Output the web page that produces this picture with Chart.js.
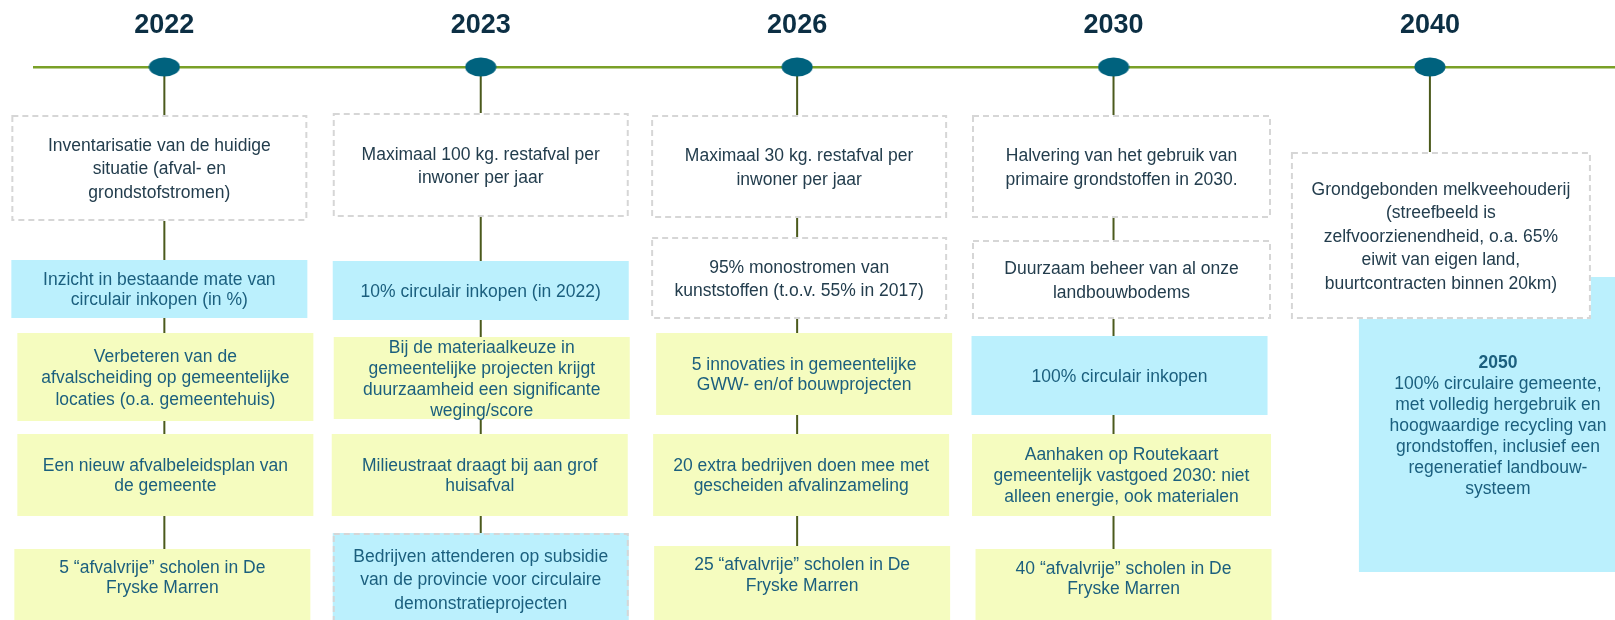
<!DOCTYPE html>
<html>
<head>
<meta charset="utf-8">
<style>
  html, body { margin: 0; padding: 0; background: #ffffff; }
  #wrap { width: 1615px; height: 620px; position: relative; overflow: hidden; }
  canvas { display: block; }
</style>
<script src="https://cdn.jsdelivr.net/npm/chart.js@4/dist/chart.umd.min.js"></script>
</head>
<body>
<div id="wrap"><canvas id="chart" width="1615" height="620"></canvas></div>
<script>
// ---------------- DATA ----------------
const years = ['2022', '2023', '2026', '2030', '2040'];

const goals2022 = [
  'Inventarisatie van de huidige\nsituatie (afval- en\ngrondstofstromen)',
  'Inzicht in bestaande mate van\ncirculair inkopen (in %)',
  'Verbeteren van de\nafvalscheiding op gemeentelijke\nlocaties (o.a. gemeentehuis)',
  'Een nieuw afvalbeleidsplan van\nde gemeente',
  '5 \u201cafvalvrije\u201d scholen in De\nFryske Marren'
];
const goals2023 = [
  'Maximaal 100 kg. restafval per\ninwoner per jaar',
  '10% circulair inkopen (in 2022)',
  'Bij de materiaalkeuze in\ngemeentelijke projecten krijgt\nduurzaamheid een significante\nweging/score',
  'Milieustraat draagt bij aan grof\nhuisafval',
  'Bedrijven attenderen op subsidie\nvan de provincie voor circulaire\ndemonstratieprojecten'
];
const goals2026 = [
  'Maximaal 30 kg. restafval per\ninwoner per jaar',
  '95% monostromen van\nkunststoffen (t.o.v. 55% in 2017)',
  '5 innovaties in gemeentelijke\nGWW- en/of bouwprojecten',
  '20 extra bedrijven doen mee met\ngescheiden afvalinzameling',
  '25 \u201cafvalvrije\u201d scholen in De\nFryske Marren'
];
const goals2030 = [
  'Halvering van het gebruik van\nprimaire grondstoffen in 2030.',
  'Duurzaam beheer van al onze\nlandbouwbodems',
  '100% circulair inkopen',
  'Aanhaken op Routekaart\ngemeentelijk vastgoed 2030: niet\nalleen energie, ook materialen',
  '40 \u201cafvalvrije\u201d scholen in De\nFryske Marren'
];
const goals2040 = [
  'Grondgebonden melkveehouderij\n(streefbeeld is\nzelfvoorzienendheid, o.a. 65%\neiwit van eigen land,\nbuurtcontracten binnen 20km)'
];
const goalsByYear = [goals2022, goals2023, goals2026, goals2030, goals2040];

const visionYear = '2050';
const vision2050 = [
  '100% circulaire gemeente,',
  'met volledig hergebruik en',
  'hoogwaardige recycling van',
  'grondstoffen, inclusief een',
  'regeneratief landbouw-',
  'systeem'
];

// ---------------- LAYOUT & STYLE ----------------
const FONT = '"Liberation Sans", Arial, Helvetica, sans-serif';
const TEXT_SHIFT = 1.5;
const C = {
  timeline: '#7aa027',
  stem: '#4b5a1c',
  marker: '#00627e',
  year: '#0c2f44',
  dashText: '#233d4d',
  fillText: '#1b5f7e',
  cyan: '#bbf0fd',
  yellow: '#f5fcbf',
  dash: '#d6d6d6'
};
const KIND = {
  dash:     { fill: '#ffffff', dashed: true,  color: C.dashText, lh: 23.5 },
  cyan:     { fill: C.cyan,    dashed: false, color: C.fillText, lh: 20.5 },
  yellow:   { fill: C.yellow,  dashed: false, color: C.fillText, lh: 20.5 },
  cyanDash: { fill: C.cyan,    dashed: true,  color: C.fillText, lh: 23.5 }
};
// per column, per box: kind, vertical extent, horizontal nudge / half width, optional text centre
const boxLayout = [
  [
    { k: 'dash',   y0: 115, y1: 221, dx: -5 },
    { k: 'cyan',   y0: 260, y1: 318, dx: -5, lh: 20 },
    { k: 'yellow', y0: 333, y1: 421, dx: 1, lh: 21.5 },
    { k: 'yellow', y0: 434, y1: 516, dx: 1, lh: 20 },
    { k: 'yellow', y0: 549, y1: 640, dx: -2, ty: 577, lh: 20 }
  ],
  [
    { k: 'dash',     y0: 113, y1: 217, dx: 0 },
    { k: 'cyan',     y0: 261, y1: 320, dx: 0 },
    { k: 'yellow',   y0: 337, y1: 419, dx: 1, lh: 21 },
    { k: 'yellow',   y0: 434, y1: 516, dx: -1, lh: 20 },
    { k: 'cyanDash', y0: 533, y1: 640, dx: 0, ty: 579 }
  ],
  [
    { k: 'dash',   y0: 115, y1: 218, dx: 2 },
    { k: 'dash',   y0: 237, y1: 319, dx: 2 },
    { k: 'yellow', y0: 333, y1: 415, dx: 7, lh: 20 },
    { k: 'yellow', y0: 434, y1: 516, dx: 4, lh: 20 },
    { k: 'yellow', y0: 546, y1: 640, dx: 5, ty: 574.5, lh: 21 }
  ],
  [
    { k: 'dash',   y0: 115, y1: 218, dx: 8, hw: 149.5 },
    { k: 'dash',   y0: 240, y1: 319, dx: 8, hw: 149.5 },
    { k: 'cyan',   y0: 336, y1: 415, dx: 6, hw: 148 },
    { k: 'yellow', y0: 434, y1: 516, dx: 8, hw: 149.5, lh: 21 },
    { k: 'yellow', y0: 549, y1: 640, dx: 10, hw: 148, ty: 577.5, lh: 20.5 }
  ],
  [
    { k: 'dash', y0: 152, y1: 319, dx: 11, hw: 150 }
  ]
];
const visionLayout = { x0dx: -71, x1: 1625, y0: 277, y1: 572, tdx: 68, ty: 425, lh: 21 };

// ---------------- MARKER ----------------
const marker = document.createElement('canvas');
marker.width = 32; marker.height = 20;
(function () {
  const m = marker.getContext('2d');
  m.fillStyle = C.marker;
  m.beginPath();
  m.ellipse(16, 10, 15.5, 9.5, 0, 0, Math.PI * 2);
  m.fill();
})();

// ---------------- DRAWING ----------------
function drawLines(ctx, lines, cx, cy, lh, color, fontFirst) {
  ctx.fillStyle = color;
  ctx.textAlign = 'center';
  ctx.textBaseline = 'middle';
  const start = cy + TEXT_SHIFT - (lines.length - 1) * lh / 2;
  lines.forEach((ln, i) => {
    ctx.font = (i === 0 && fontFirst) ? fontFirst : '17.5px ' + FONT;
    ctx.fillText(ln, cx, start + i * lh);
  });
}

function drawBox(ctx, b, cx, text) {
  const kind = KIND[b.k];
  const hw = b.hw || 148;
  const x0 = cx + (b.dx || 0) - hw;
  const x1 = cx + (b.dx || 0) + hw;
  ctx.fillStyle = kind.fill;
  ctx.fillRect(x0, b.y0, x1 - x0, b.y1 - b.y0);
  if (kind.dashed) {
    ctx.save();
    ctx.strokeStyle = C.dash;
    ctx.lineWidth = 2;
    ctx.setLineDash([6, 4]);
    ctx.strokeRect(x0 + 1, b.y0 + 1, x1 - x0 - 2, b.y1 - b.y0 - 2);
    ctx.restore();
  }
  const ty = b.ty !== undefined ? b.ty : (b.y0 + b.y1) / 2;
  drawLines(ctx, text.split('\n'), (x0 + x1) / 2, ty, b.lh || kind.lh, kind.color);
}

const milestonePlugin = {
  id: 'milestones',
  beforeDatasetsDraw(chart) {
    const { ctx, chartArea } = chart;
    const xs = chart.scales.x;
    ctx.save();
    // stems
    ctx.strokeStyle = C.stem;
    ctx.lineWidth = 2;
    goalsByYear.forEach((goals, ci) => {
      const cx = xs.getPixelForValue(ci);
      const last = boxLayout[ci][goals.length - 1];
      ctx.beginPath();
      ctx.moveTo(cx, chartArea.top);
      ctx.lineTo(cx, last.y0 + 2);
      ctx.stroke();
    });
    // 2050 vision box (under the 2040 box)
    const c5 = xs.getPixelForValue(years.length - 1);
    const v = visionLayout;
    ctx.fillStyle = C.cyan;
    ctx.fillRect(c5 + v.x0dx, v.y0, v.x1 - (c5 + v.x0dx), v.y1 - v.y0);
    drawLines(ctx, [visionYear].concat(vision2050), c5 + v.tdx, v.ty, v.lh, C.fillText,
      'bold 17.5px ' + FONT);
    // goal boxes
    goalsByYear.forEach((goals, ci) => {
      const cx = xs.getPixelForValue(ci);
      goals.forEach((text, ri) => drawBox(ctx, boxLayout[ci][ri], cx, text));
    });
    ctx.restore();
  }
};

new Chart(document.getElementById('chart'), {
  type: 'scatter',
  data: {
    datasets: [{
      data: years.map((y, i) => ({ x: i, y: 0 })),
      pointStyle: marker,
      pointRadius: 10,
      clip: false
    }]
  },
  options: {
    responsive: false,
    animation: false,
    events: [],
    layout: { autoPadding: false, padding: { left: 34, right: 0, top: 0, bottom: 0 } },
    plugins: { legend: { display: false }, tooltip: { enabled: false } },
    scales: {
      x: {
        type: 'linear',
        position: 'top',
        min: -0.412,
        max: 4.585,
        afterBuildTicks: s => { s.ticks = years.map((_, i) => ({ value: i })); },
        afterFit: s => { s.height = 67; },
        grid: { display: false, drawTicks: false },
        border: { display: true, color: C.timeline, width: 2.5 },
        ticks: {
          callback: (value, index) => years[index],
          autoSkip: false,
          maxRotation: 0,
          padding: 25,
          color: C.year,
          font: { family: FONT, size: 27, weight: 'bold' }
        }
      },
      y: { display: false, min: 0, max: 100, reverse: true }
    }
  },
  plugins: [milestonePlugin]
});
</script>
</body>
</html>
